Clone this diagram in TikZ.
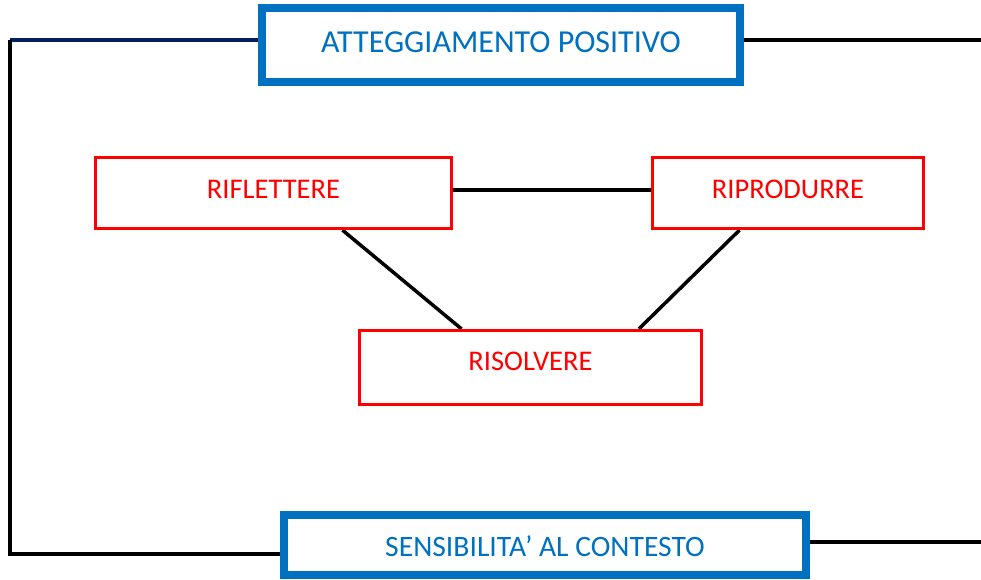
\documentclass[tikz,border=0pt]{standalone}
\usepackage{fontspec}
\setmainfont{Carlito}
\usetikzlibrary{calc,backgrounds}
\definecolor{boxblue}{HTML}{0070C0}
\definecolor{boxred}{HTML}{FF0000}
\definecolor{navyline}{HTML}{002060}
\tikzset{
  bluebox/.style={draw=boxblue, line width=8pt, rectangle, inner sep=0pt, text=boxblue, font=\fontsize{28.5}{34}\selectfont},
  redbox/.style={draw=boxred, line width=3.3pt, rectangle, inner sep=0pt, text=boxred, font=\fontsize{28.5}{34}\selectfont, text height=18.4pt, text depth=8pt},
  conn/.style={draw=black, line width=3.5pt},
}
\begin{document}
\begin{tikzpicture}[x=1pt,y=-1pt]
\useasboundingbox (0,0) rectangle (981,580);
\node[bluebox, minimum width=478pt, minimum height=74pt, font=\fontsize{32}{38}\selectfont, text height=20.6pt, text depth=6pt] (atp) at (501,45) {ATTEGGIAMENTO POSITIVO};
\node[bluebox, minimum width=522pt, minimum height=60pt, font=\fontsize{29.6}{35}\selectfont, text height=23pt, text depth=0pt] (sens) at (545,545) {SENSIBILITA’ AL CONTESTO};
\node[redbox, minimum width=356pt, minimum height=71pt] (rif) at (273.5,193) {RIFLETTERE};
\node[redbox, minimum width=271pt, minimum height=71pt] (rip) at (788,193) {RIPRODURRE};
\node[redbox, minimum width=342pt, minimum height=74pt, text depth=13pt] (ris) at (530.5,367.5) {RISOLVERE};
\coordinate (tl) at (10,40);
\coordinate (bl) at (10,554);
\coordinate (tr) at (981,40);
\coordinate (br) at (981,542);
\begin{scope}[on background layer]
\draw[conn, draw=navyline] (tl) -- (tl -| atp.west);
\draw[conn] (tl) -- (bl) -- (bl -| sens.west);
\draw[conn] (atp.east |- tr) -- (tr);
\draw[conn] (sens.east |- br) -- (br);
\draw[conn] ([yshift=3pt]rif.east) -- ([yshift=3pt]rip.west);
\draw[conn] ($(rif.south west)!0.692!(rif.south east)$) -- ($(ris.north west)!0.30!(ris.north east)$);
\draw[conn] ($(rip.south west)!0.323!(rip.south east)$) -- ($(ris.north west)!0.814!(ris.north east)$);
\end{scope}
\end{tikzpicture}
\end{document}
